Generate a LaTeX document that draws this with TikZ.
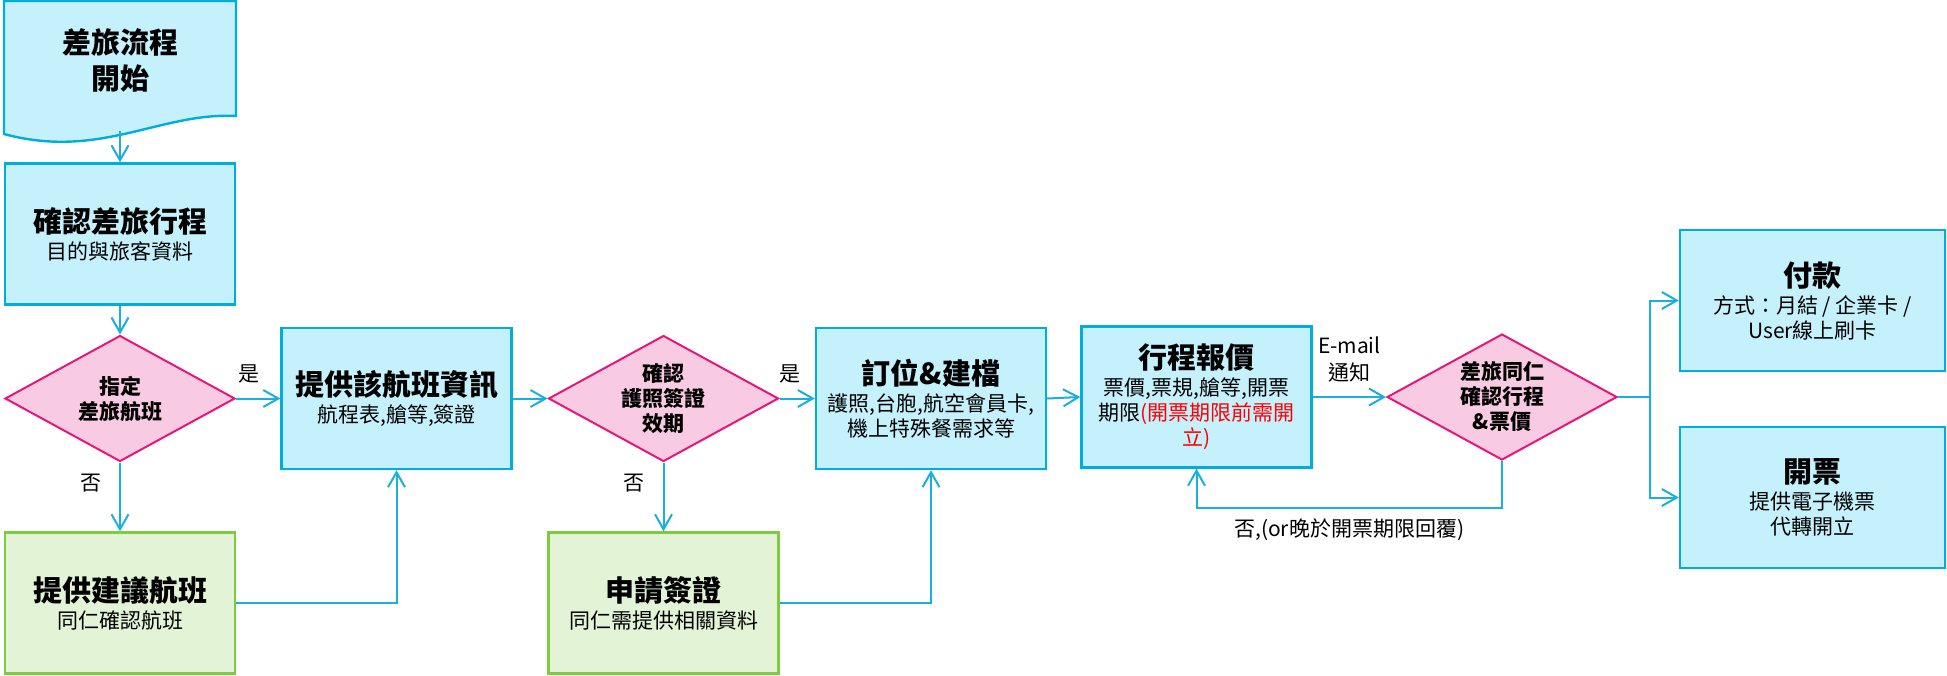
\documentclass[tikz,border=0pt]{standalone}
\usepackage{fontspec}
\setmainfont{Noto Sans CJK TC}
\usepackage{xcolor}
\usetikzlibrary{arrows.meta, positioning, shapes.geometric}
\definecolor{BoxFill}{HTML}{C5F1FD}
\definecolor{BoxLine}{HTML}{00AEDB}
\definecolor{DiaFill}{HTML}{F9CBE3}
\definecolor{DiaLine}{HTML}{E5177B}
\definecolor{AltFill}{HTML}{E2F4D5}
\definecolor{AltLine}{HTML}{7DCC3F}
\definecolor{FlowLine}{HTML}{1AAFDC}
\newcommand{\ttl}[1]{{\fontsize{14.5}{17}\selectfont\bfseries #1}}

\begin{document}
\begin{tikzpicture}[x=0.5pt, y=-0.5pt,
    procbox/.style={draw=BoxLine, fill=BoxFill, line width=1.2pt, minimum width=115pt, minimum height=70.5pt, inner sep=2pt, align=center, font=\fontsize{10.5}{12.5}\selectfont},
    altbox/.style={procbox, draw=AltLine, fill=AltFill},
    endbox/.style={procbox, minimum width=132.5pt},
    decision/.style={diamond, draw=DiaLine, fill=DiaFill, line width=1pt, aspect=1.83, minimum width=115pt, minimum height=63pt, inner sep=0pt, align=center, font=\fontsize{10.5}{12.5}\selectfont\bfseries},
    flow/.style={draw=FlowLine, line width=1pt, -{Straight Barb[length=7.5pt, width=8.5pt]}},
    lbl/.style={font=\fontsize{10.5}{13.5}\selectfont, inner sep=3pt}]
        \useasboundingbox (0,0) rectangle (1947,675);

        % Start (document shape)
        \draw[BoxLine, fill=BoxFill, line width=1.2pt] (4,1) -- (236,1) -- (236,116) .. controls (160,112) and (100,160) .. (4,134) -- cycle;
        \node[font=\fontsize{14.5}{18}\selectfont\bfseries, align=center] (start) at (120,60) {差旅流程\\開始};
        \coordinate (startwave) at (120,131);

        % Nodes
        \node[procbox] (confirm) at (120,234) {\ttl{確認差旅行程}\\[1pt]目的與旅客資料};
        \node[decision] (flight) at (120,398.5) {指定\\差旅航班};
        \node[altbox] (suggest) at (120,603) {\ttl{提供建議航班}\\[1pt]同仁確認航班};
        \node[procbox] (info) at (396.5,398.5) {\ttl{提供該航班資訊}\\[1pt]航程表,艙等,簽證};
        \node[decision] (passport) at (663.5,398.5) {確認\\護照簽證\\效期};
        \node[altbox] (visa) at (663.5,603) {\ttl{申請簽證}\\[1pt]同仁需提供相關資料};
        \node[procbox] (book) at (931,398.5) {\ttl{訂位\&建檔}\\[1pt]護照,台胞,航空會員卡,\\機上特殊餐需求等};
        \node[procbox] (quote) at (1196.5,397) {\ttl{行程報價}\\[1pt]票價,票規,艙等,開票\\期限\textcolor{red}{(開票期限前需開}\\\textcolor{red}{立)}};
        \node[decision] (check) at (1502,397) {差旅同仁\\確認行程\\\&票價};
        \node[endbox] (pay) at (1812.5,300.5) {\ttl{付款}\\[1pt]方式：月結 / 企業卡 /\\User線上刷卡};
        \node[endbox] (ticket) at (1812.5,497.5) {\ttl{開票}\\[1pt]提供電子機票\\代轉開立};

        % Arrows
        \draw[flow] (startwave) -- (confirm.north);
        \draw[flow] (confirm.south) -- (flight.north);
        \draw[flow] (flight.east) -- node[lbl, pos=0.3, above=4pt] {是} (info.west);
        \draw[flow] (flight.south) -- node[lbl, pos=0.3, left=6pt] {否} (suggest.north);
        \draw[flow] (suggest.east) -| (info.south);
        \draw[flow] (info.east) -- (passport.west);
        \draw[flow] (passport.east) -- node[lbl, pos=0.3, above=4pt] {是} (book.west);
        \draw[flow] (passport.south) -- node[lbl, pos=0.3, left=6pt] {否} (visa.north);
        \draw[flow] (visa.east) -| (book.south);
        \draw[flow] (book.east) -- (quote.west);
        \draw[flow] (quote.east) -- node[lbl, midway, above=4pt, align=center] {E-mail\\通知} (check.west);
        \draw[flow] (check.south) -- ++(0,47) -| node[lbl, pos=0.25, below=2pt] {否,(or晚於開票期限回覆)} (quote.south);
        \draw[flow] (check.east) -- ++(32,0) |- (pay.west);
        \draw[flow] (check.east) -- ++(32,0) |- (ticket.west);
\end{tikzpicture}
\end{document}
